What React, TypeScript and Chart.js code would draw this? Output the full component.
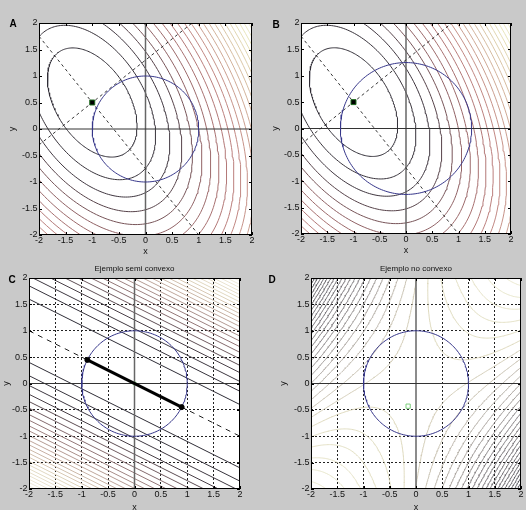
import React, { useEffect, useRef } from "react";
import { Chart, registerables } from "chart.js";

Chart.register(...registerables);

// ---------------- data ----------------
const TICK_VALUES = [-2, -1.5, -1, -0.5, 0, 0.5, 1, 1.5, 2];
const TICK_LABELS = ["-2", "-1.5", "-1", "-0.5", "0", "0.5", "1", "1.5", "2"];
const AXIS_RANGE = [-2, 2];
const AXIS_TITLES = ["x", "y"];

const PANEL_LETTERS = ["A", "B", "C", "D"];
const PANEL_TITLES = ["", "", "Ejemplo semi convexo", "Ejemplo no convexo"];
const CIRCLE_RADII = [1, 1.25, 1, 1];

// A & B : convex quadratic, elliptic level curves
const AB_CENTER = [-1, 0.5];
const AB_ELLIPSE_SLOPES = [-1.575, 0.635]; // major axis, minor axis of the level curves
const AB_SEMI_AXES = [1.14, 0.685]; // semi axes of the level f = 1
const AB_LEVELS = [1, 2, 3, 4, 5, 6, 7, 8, 9, 10, 11, 12, 13, 14, 15, 16, 17, 18, 19, 20, 21, 22, 23, 24];
const AB_GUIDE_SLOPES = [-1.25, 0.8]; // dashed guide lines through the optimum
const AB_MARKER = [-1, 0.5];

// C : semi convex f = (x + 2y)^2
const C_NORMAL = [1, 2];
const C_LEVELS = [1.44, 2.9, 4.3, 5.8, 7.2, 8.6, 10.1, 11.5, 13, 14.4, 15.8, 17.3, 18.7, 20.2, 21.6, 23, 24.5, 25.9, 27.4, 28.8, 30.2, 31.7, 33.1, 34.6, 36];
const C_MIN_LINE_X = [-2, 2];
const C_MIN_LINE_Y = [1, -1];
const C_SEGMENT_X = [-0.894, 0.894];
const C_SEGMENT_Y = [0.447, -0.447];
const C_MARKER = [0, 0];

// D : non convex f = -a |2x - y|^3 + b x y
const D_COEFFS = [0.042, 1];
const D_LEVELS = [-12.9, -12.3, -11.7, -11.1, -10.5, -9.9, -9.3, -8.7, -8.1, -7.5, -6.9, -6.3, -5.7, -5.1, -4.5, -3.9, -3.3, -2.7, -2.1, -1.5, -0.9, -0.3, 0.3, 0.9, 1.5, 2.1, 2.7, 3.3];
const D_MARKER = [-0.15, -0.43];

// ---------------- layout / style ----------------
const FONT = "'Liberation Sans', Arial, Helvetica, sans-serif";
const PANEL_BOXES = [
  { left: 0, top: 0, width: 263, height: 255, yW: 39, xH: 20, padTop: 23, padRight: 11, yTitlePad: 7.8, xTitlePad: -1, letterX: 13, letterY: 24, titleY: 14, grid: false },
  { left: 263, top: 0, width: 263, height: 255, yW: 38, xH: 21, padTop: 23, padRight: 15, yTitlePad: 7.8, xTitlePad: -0.5, letterX: 13, letterY: 25, titleY: 14, grid: false },
  { left: 0, top: 255, width: 263, height: 255, yW: 29, xH: 21, padTop: 23, padRight: 23, yTitlePad: 2.2, xTitlePad: -2, letterX: 12, letterY: 25, titleY: 14, grid: true },
  { left: 263, top: 255, width: 263, height: 255, yW: 48, xH: 21, padTop: 23, padRight: 4, yTitlePad: 16.2, xTitlePad: -2.5, letterX: 9, letterY: 25, titleY: 14, grid: true },
];

type Pt = { x: number; y: number };
type Stop = [number, number[]];

// "pink"-like colour map, dark end kept greyish
const PALETTE_BOWL: Stop[] = [
  [0, [40, 40, 50]],
  [0.12, [66, 56, 64]],
  [0.2, [140, 95, 98]],
  [0.3, [174, 116, 116]],
  [0.375, [192, 130, 128]],
  [0.5, [208, 170, 150]],
  [0.625, [221, 204, 170]],
  [0.75, [233, 230, 188]],
  [0.875, [243, 242, 222]],
  [1, [252, 252, 248]],
];
const PALETTE_LINES: Stop[] = [
  [0, [40, 40, 50]],
  [0.15, [68, 60, 68]],
  [0.3, [142, 112, 114]],
  [0.5, [196, 172, 160]],
  [0.7, [224, 214, 190]],
  [1, [245, 242, 228]],
];
const PALETTE_SADDLE: Stop[] = [
  [0, [80, 80, 88]],
  [0.5, [130, 125, 128]],
  [0.7, [188, 182, 171]],
  [0.82, [220, 215, 185]],
  [1, [234, 232, 204]],
];

function mix(stops: Stop[], t: number): string {
  const tt = Math.max(0, Math.min(1, t));
  for (let i = 1; i < stops.length; i++) {
    if (tt <= stops[i][0]) {
      const [t0, c0] = stops[i - 1];
      const [t1, c1] = stops[i];
      const f = (tt - t0) / (t1 - t0 || 1);
      const c = c0.map((v, k) => Math.round(v + (c1[k] - v) * f));
      return `rgb(${c[0]},${c[1]},${c[2]})`;
    }
  }
  const c = stops[stops.length - 1][1];
  return `rgb(${c[0]},${c[1]},${c[2]})`;
}

function unit(slope: number): number[] {
  const n = Math.hypot(1, slope);
  return [1 / n, slope / n];
}

function circlePts(r: number): Pt[] {
  const out: Pt[] = [];
  for (let i = 0; i <= 180; i++) {
    const t = (i / 180) * Math.PI * 2;
    out.push({ x: r * Math.cos(t), y: r * Math.sin(t) });
  }
  return out;
}

function ellipsePts(level: number): Pt[] {
  const u = unit(AB_ELLIPSE_SLOPES[0]);
  const v = unit(AB_ELLIPSE_SLOPES[1]);
  const a = AB_SEMI_AXES[0] * Math.sqrt(level);
  const b = AB_SEMI_AXES[1] * Math.sqrt(level);
  const out: Pt[] = [];
  for (let i = 0; i <= 220; i++) {
    const t = (i / 220) * Math.PI * 2;
    const c = Math.cos(t) * a;
    const s = Math.sin(t) * b;
    out.push({ x: AB_CENTER[0] + c * u[0] + s * v[0], y: AB_CENTER[1] + c * u[1] + s * v[1] });
  }
  return out;
}

function lineThrough(cx: number, cy: number, slope: number): Pt[] {
  return AXIS_RANGE.map((x) => ({ x, y: cy + slope * (x - cx) }));
}

function dFn(x: number, y: number): number {
  const w = Math.abs(2 * x - y);
  return -D_COEFFS[0] * w * w * w + D_COEFFS[1] * x * y;
}

function marching(level: number, grid: number[][], n: number): Pt[] {
  const lo = AXIS_RANGE[0];
  const step = (AXIS_RANGE[1] - AXIS_RANGE[0]) / n;
  const out: Pt[] = [];
  const gap = { x: NaN, y: NaN };
  const interp = (x0: number, y0: number, v0: number, x1: number, y1: number, v1: number): Pt => {
    const f = (level - v0) / (v1 - v0);
    return { x: x0 + (x1 - x0) * f, y: y0 + (y1 - y0) * f };
  };
  for (let i = 0; i < n; i++) {
    for (let j = 0; j < n; j++) {
      const x0 = lo + i * step, x1 = x0 + step;
      const y0 = lo + j * step, y1 = y0 + step;
      const v0 = grid[i][j], v1 = grid[i + 1][j], v2 = grid[i + 1][j + 1], v3 = grid[i][j + 1];
      const b0 = v0 >= level, b1 = v1 >= level, b2 = v2 >= level, b3 = v3 >= level;
      const e: (Pt | null)[] = [
        b0 !== b1 ? interp(x0, y0, v0, x1, y0, v1) : null,
        b1 !== b2 ? interp(x1, y0, v1, x1, y1, v2) : null,
        b3 !== b2 ? interp(x0, y1, v3, x1, y1, v2) : null,
        b0 !== b3 ? interp(x0, y0, v0, x0, y1, v3) : null,
      ];
      const pts = e.filter((p) => p) as Pt[];
      if (pts.length === 2) {
        out.push(pts[0], pts[1], gap);
      } else if (pts.length === 4) {
        const center = (v0 + v1 + v2 + v3) / 4 >= level;
        if (center === b0) out.push(e[0]!, e[1]!, gap, e[2]!, e[3]!, gap);
        else out.push(e[0]!, e[3]!, gap, e[1]!, e[2]!, gap);
      }
    }
  }
  return out;
}

function lineDs(data: Pt[], color: string, width: number, dash: number[] = []) {
  return {
    data,
    showLine: true,
    borderColor: color,
    backgroundColor: color,
    borderWidth: width,
    borderDash: dash,
    pointRadius: 0,
    pointHoverRadius: 0,
    spanGaps: false,
    tension: 0,
    fill: false,
  };
}

function markerDs(p: number[], style: string, radius: number, fill: string, border: string, bw: number) {
  return {
    data: [{ x: p[0], y: p[1] }],
    showLine: false,
    pointStyle: style,
    pointRadius: radius,
    backgroundColor: fill,
    borderColor: border,
    borderWidth: bw,
  };
}

function axisLines() {
  return [
    lineDs(AXIS_RANGE.map((x) => ({ x, y: 0 })), "#333", 1),
    lineDs(AXIS_RANGE.map((y) => ({ x: 0, y })), "#666", 1.5),
  ];
}

function datasetsFor(index: number): any[] {
  const circle = lineDs(circlePts(CIRCLE_RADII[index]), "#36368a", 1);
  if (index < 2) {
    const contours = AB_LEVELS.map((L, i) => lineDs(ellipsePts(L), mix(PALETTE_BOWL, (i + 1) / 28), 1));
    return [
      markerDs(AB_MARKER, "rect", 3.5, "#000", "#1d6b1d", 1),
      circle,
      lineDs(lineThrough(AB_CENTER[0], AB_CENTER[1], AB_GUIDE_SLOPES[0]), "#222", 0.9, [3, 3]),
      lineDs(lineThrough(AB_CENTER[0], AB_CENTER[1], AB_GUIDE_SLOPES[1]), "#222", 0.9, [3, 3]),
      ...axisLines(),
      ...contours,
    ];
  }
  if (index === 2) {
    const contours: any[] = [];
    C_LEVELS.forEach((L, i) => {
      const col = mix(PALETTE_LINES, (i + 1) / 25);
      [1, -1].forEach((sg) => {
        const c = sg * Math.sqrt(L);
        contours.push(lineDs(AXIS_RANGE.map((x) => ({ x, y: (c - C_NORMAL[0] * x) / C_NORMAL[1] })), col, 1));
      });
    });
    return [
      markerDs([C_SEGMENT_X[0], C_SEGMENT_Y[0]], "circle", 2.5, "#000", "#000", 1),
      markerDs([C_SEGMENT_X[1], C_SEGMENT_Y[1]], "circle", 2.5, "#000", "#000", 1),
      lineDs(C_SEGMENT_X.map((x, i) => ({ x, y: C_SEGMENT_Y[i] })), "#000", 3),
      markerDs(C_MARKER, "rect", 2, "rgba(150,210,150,0.8)", "rgba(120,200,120,0.8)", 1),
      circle,
      lineDs(C_MIN_LINE_X.map((x, i) => ({ x, y: C_MIN_LINE_Y[i] })), "#222", 1, [5, 5]),
      ...axisLines(),
      ...contours,
    ];
  }
  const n = 160;
  const lo = AXIS_RANGE[0];
  const step = (AXIS_RANGE[1] - AXIS_RANGE[0]) / n;
  const grid: number[][] = [];
  for (let i = 0; i <= n; i++) {
    const row: number[] = [];
    for (let j = 0; j <= n; j++) row.push(dFn(lo + i * step, lo + j * step));
    grid.push(row);
  }
  const lMin = D_LEVELS[0];
  const lMax = D_LEVELS[D_LEVELS.length - 1];
  const contours = D_LEVELS.map((L) => lineDs(marching(L, grid, n), mix(PALETTE_SADDLE, (L - lMin) / (lMax - lMin)), 0.9));
  return [
    markerDs(D_MARKER, "rect", 3, "rgba(0,0,0,0)", "#7ccf7c", 1),
    circle,
    ...axisLines(),
    ...contours,
  ];
}

const decorPlugin = {
  id: "decor",
  beforeDraw(chart: any) {
    const { ctx, chartArea: a } = chart;
    ctx.save();
    ctx.fillStyle = "#ffffff";
    ctx.fillRect(a.left, a.top, a.right - a.left, a.bottom - a.top);
    ctx.restore();
  },
  afterDatasetsDraw(chart: any) {
    const { ctx, chartArea: a, scales } = chart;
    ctx.save();
    ctx.strokeStyle = "#000";
    ctx.lineWidth = 1;
    ctx.strokeRect(a.left + 0.5, a.top + 0.5, a.right - a.left - 1, a.bottom - a.top - 1);
    ctx.beginPath();
    TICK_VALUES.forEach((v) => {
      const px = Math.round(scales.x.getPixelForValue(v)) + 0.5;
      const py = Math.round(scales.y.getPixelForValue(v)) + 0.5;
      ctx.moveTo(px, a.bottom);
      ctx.lineTo(px, a.bottom - 3);
      ctx.moveTo(px, a.top);
      ctx.lineTo(px, a.top + 3);
      ctx.moveTo(a.left, py);
      ctx.lineTo(a.left + 3, py);
      ctx.moveTo(a.right, py);
      ctx.lineTo(a.right - 3, py);
    });
    ctx.stroke();
    ctx.restore();
  },
  afterDraw(chart: any, _args: any, opts: any) {
    const { ctx, chartArea: a } = chart;
    ctx.save();
    ctx.fillStyle = "#000";
    ctx.textAlign = "center";
    ctx.textBaseline = "middle";
    ctx.font = `bold 10px ${FONT}`;
    ctx.fillText(opts.letter, opts.letterX, opts.letterY);
    if (opts.title) {
      ctx.font = `8px ${FONT}`;
      ctx.fillStyle = "#111";
      ctx.fillText(opts.title, (a.left + a.right) / 2, opts.titleY);
    }
    ctx.restore();
  },
};

function scaleCfg(axis: "x" | "y", box: any) {
  return {
    type: "linear",
    min: AXIS_RANGE[0],
    max: AXIS_RANGE[1],
    afterBuildTicks: (s: any) => {
      s.ticks = TICK_VALUES.map((v) => ({ value: v }));
    },
    afterFit: (s: any) => {
      if (axis === "x") s.height = box.xH;
      else s.width = box.yW;
    },
    ticks: {
      autoSkip: false,
      maxRotation: 0,
      minRotation: 0,
      padding: axis === "x" ? 0 : 1.5,
      color: "#111",
      font: { family: FONT, size: 9 },
      callback: (_v: any, i: number) => TICK_LABELS[i],
    },
    grid: {
      display: box.grid,
      drawTicks: false,
      lineWidth: 1,
      color: (c: any) => (c.tick && (c.tick.value === 0 || Math.abs(c.tick.value) === 2) ? "rgba(0,0,0,0)" : "#222"),
    },
    border: { display: false, dash: [2, 2] },
    title: {
      display: true,
      text: axis === "x" ? AXIS_TITLES[0] : AXIS_TITLES[1],
      color: "#111",
      font: { family: FONT, size: 9, lineHeight: 1 },
      padding: axis === "x" ? { top: 0, bottom: box.xTitlePad } : { top: box.yTitlePad, bottom: 0 },
    },
  };
}

export default function App() {
  const refs = [useRef<HTMLCanvasElement>(null), useRef<HTMLCanvasElement>(null), useRef<HTMLCanvasElement>(null), useRef<HTMLCanvasElement>(null)];

  useEffect(() => {
    const charts = PANEL_BOXES.map((box, i) => {
      const canvas = refs[i].current!;
      return new Chart(canvas, {
        type: "scatter",
        data: { datasets: datasetsFor(i) },
        options: {
          animation: false,
          responsive: false,
          maintainAspectRatio: false,
          events: [],
          layout: { padding: { top: box.padTop, right: box.padRight, left: 0, bottom: 0 } },
          plugins: {
            legend: { display: false },
            tooltip: { enabled: false },
            decor: { letter: PANEL_LETTERS[i], letterX: box.letterX, letterY: box.letterY, title: PANEL_TITLES[i], titleY: box.titleY },
          } as any,
          scales: { x: scaleCfg("x", box), y: scaleCfg("y", box) } as any,
        },
        plugins: [decorPlugin],
      } as any);
    });
    return () => charts.forEach((c) => c.destroy());
  }, []);

  return (
    <div style={{ position: "fixed", left: 0, top: 0, width: 526, height: 510, background: "#c9c9c9", overflow: "hidden" }}>
      {PANEL_BOXES.map((b, i) => (
        <canvas
          key={i}
          ref={refs[i]}
          width={b.width}
          height={b.height}
          style={{ position: "absolute", left: b.left, top: b.top, width: b.width, height: b.height }}
        />
      ))}
    </div>
  );
}
